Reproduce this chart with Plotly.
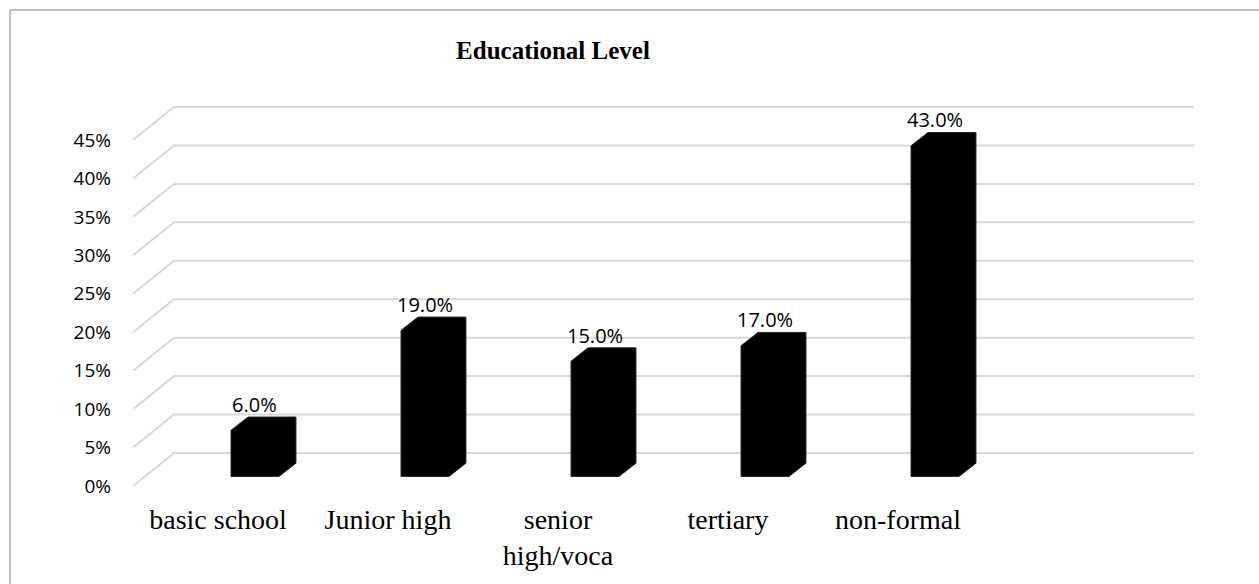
import plotly.graph_objects as go

# ---- data -------------------------------------------------------------
categories = ["basic school", "Junior high", "senior high/voca", "tertiary", "non-formal"]
category_ticktext = ["basic school", "Junior high", "senior<br>high/voca", "tertiary", "non-formal"]
shares = [6.0, 19.0, 15.0, 17.0, 43.0]          # percent
y_ticks = [0, 5, 10, 15, 20, 25, 30, 35, 40, 45]
y_ticktext = [f"{t}%" for t in y_ticks]

# ---- oblique 3-D geometry (axis units: x = category slot, y = percent) --
WALL_DX, WALL_DY = 0.2412, 4.29     # depth of the floor / back wall
SLOT_COUNT = 6                      # last slot is left empty
BAR_X0 = 0.0765                     # front face left edge, relative to slot centre
BAR_W = 0.282                       # front face width
BAR_DX, BAR_DY = 0.10, 1.73         # bar side depth
BAR_BASE = 1.24                     # bar floor level (mid-depth of the floor)

GRID_COLOR = "#d9d9d9"
BAR_COLOR = "#000000"

fig = go.Figure()

# bent gridlines: a short slanted run on the side wall, then along the back wall
x_left = -0.5
x_right = -0.5 + SLOT_COUNT + WALL_DX
for t in y_ticks:
    fig.add_trace(go.Scatter(
        x=[x_left, x_left + WALL_DX, x_right],
        y=[t, t + WALL_DY, t + WALL_DY],
        mode="lines",
        line=dict(color=GRID_COLOR, width=2),
        hoverinfo="skip",
        showlegend=False,
    ))

# bars: front face with a bevelled top-left and bottom-right (side/top faces)
for i, (name, v) in enumerate(zip(categories, shares)):
    x0 = i + BAR_X0
    x1 = x0 + BAR_W
    top = BAR_BASE + v
    xs = [x0, x1, x1 + BAR_DX, x1 + BAR_DX, x0 + BAR_DX, x0, x0]
    ys = [BAR_BASE, BAR_BASE, BAR_BASE + BAR_DY, top + BAR_DY, top + BAR_DY, top, BAR_BASE]
    fig.add_trace(go.Scatter(
        x=xs, y=ys,
        mode="lines",
        fill="toself",
        fillcolor=BAR_COLOR,
        line=dict(color="#262626", width=1),
        name=name,
        hoverinfo="skip",
        showlegend=False,
    ))
    fig.add_annotation(
        x=x0 + BAR_W / 2,
        y=top + BAR_DY + 1.64,
        text=f"{v:.1f}%",
        showarrow=False,
        xanchor="center",
        yanchor="middle",
        font=dict(family="Open Sans, Liberation Sans, sans-serif", size=20, color="#000000"),
    )

# chart frame (top and left edges)
frame = dict(type="line", xref="paper", yref="paper",
             line=dict(color="#bfbfbf", width=2), layer="below")
fig.add_shape(x0=-0.1, x1=1.04, y0=1.225, y1=1.225, **frame)
fig.add_shape(x0=-0.1, x1=-0.1, y0=1.225, y1=-0.25, **frame)

fig.update_layout(
    width=1259,
    height=584,
    margin=dict(l=120, r=39, t=100, b=84),
    paper_bgcolor="#ffffff",
    plot_bgcolor="#ffffff",
    title=dict(
        text="<b>Educational Level</b>",
        x=0.3936, xref="paper", xanchor="center",
        y=0.9144, yref="container", yanchor="middle",
        font=dict(family="Liberation Serif, Times New Roman, serif", size=25, color="#000000"),
    ),
    xaxis=dict(
        range=[-0.5765, 5.894],
        tickvals=list(range(len(categories))),
        ticktext=category_ticktext,
        showgrid=False, zeroline=False, showline=False, ticks="",
        tickfont=dict(family="Liberation Serif, Times New Roman, serif", size=28, color="#000000"),
        fixedrange=True,
    ),
    yaxis=dict(
        range=[-1.821, 50.2],
        tickvals=y_ticks,
        ticktext=y_ticktext,
        showgrid=False, zeroline=False, showline=False, ticks="",
        ticklabelstandoff=8,
        tickfont=dict(family="Open Sans, Liberation Sans, sans-serif", size=19, color="#000000"),
        fixedrange=True,
    ),
    showlegend=False,
)

fig.write_html("out.html")
